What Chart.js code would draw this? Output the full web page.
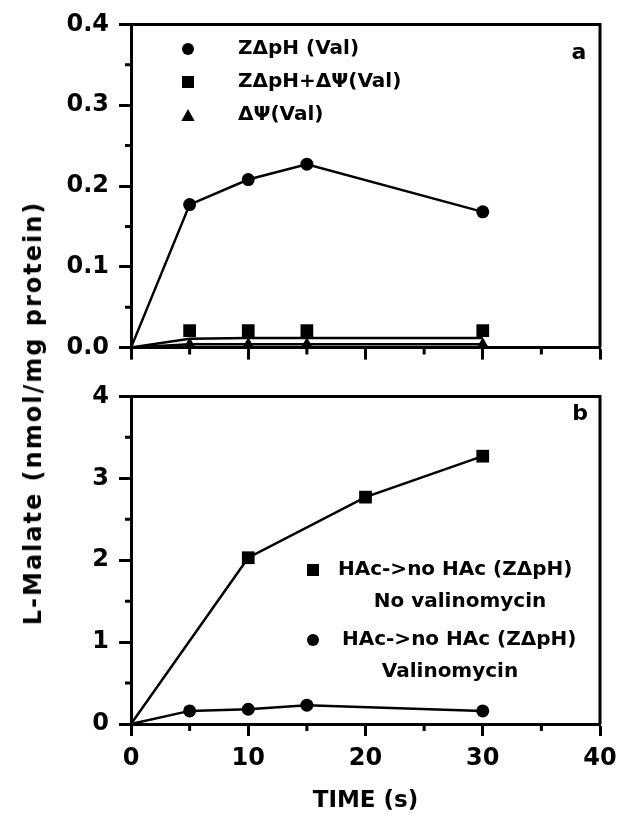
<!DOCTYPE html>
<html>
<head>
<meta charset="utf-8">
<script src="https://cdn.jsdelivr.net/npm/chart.js"></script>
<style>
  body { margin: 0; background: #fff; }
  #wrap { position: relative; width: 619px; height: 820px; overflow: hidden; }
  canvas { position: absolute; left: 0; }
  #ytitle {
    position: absolute; left: 33px; top: 413px;
    transform: translate(-50%, -50%) rotate(-90deg);
    white-space: nowrap;
    font: bold 24px "DejaVu Sans";
    letter-spacing: 2px;
    color: #000;
  }
</style>
</head>
<body>
<div id="wrap">
  <canvas id="panelA" width="619" height="372" style="top:0"></canvas>
  <canvas id="panelB" width="625" height="448" style="top:372px"></canvas>
  <div id="ytitle">L-Malate (nmol/mg protein)</div>
</div>
<script>
// panel a
const timesA = [0, 5, 10, 15, 30];
const markTimesA = [5, 10, 15, 30];
const zdpH = [0, 0.177, 0.208, 0.227, 0.168];
const zdpHdPsi = [0.021, 0.021, 0.021, 0.021];
const zdpHdPsiLine = [0, 0.011, 0.012, 0.012, 0.012];
const dPsi = [0, 0.004, 0.004, 0.004, 0.004];

// panel b
const timesNoVal = [0, 10, 20, 30];
const noValinomycin = [0, 2.03, 2.77, 3.27];
const timesVal = [0, 5, 10, 15, 30];
const valinomycin = [0, 0.16, 0.18, 0.23, 0.16];

// axes
const xTicks = [0, 10, 20, 30, 40];
const xMinor = [5, 15, 25, 35];
const yTicksA = [0, 0.1, 0.2, 0.3, 0.4];
const yMinorA = [0.05, 0.15, 0.25, 0.35];
const yTicksB = [0, 1, 2, 3, 4];
const yMinorB = [0.5, 1.5, 2.5, 3.5];

Chart.defaults.font.family = '"DejaVu Sans"';
Chart.defaults.font.weight = 'bold';
Chart.defaults.color = '#000';

const pts = (xs, ys) => xs.map((x, i) => ({ x: x, y: ys[i] }));

function drawMark(ctx, style, x, y, r) {
  ctx.beginPath();
  if (style === 'circle') {
    ctx.arc(x, y, r, 0, Math.PI * 2);
  } else if (style === 'rect') {
    ctx.rect(x - r, y - r, r * 2, r * 2);
  } else {
    ctx.moveTo(x, y - r);
    ctx.lineTo(x + r * 0.95, y + r * 0.7);
    ctx.lineTo(x - r * 0.95, y + r * 0.7);
    ctx.closePath();
  }
  ctx.fill();
}

// box top/right + minor ticks
const frame = {
  id: 'frame',
  afterDraw(chart, args, opts) {
    const { ctx, chartArea: a, scales } = chart;
    ctx.save();
    ctx.strokeStyle = '#000';
    ctx.lineWidth = 3;
    ctx.beginPath();
    ctx.moveTo(a.left, a.top);
    ctx.lineTo(a.right, a.top);
    ctx.lineTo(a.right, a.bottom);
    opts.xMinor.forEach(v => {
      const px = scales.x.getPixelForValue(v);
      ctx.moveTo(px, a.bottom);
      ctx.lineTo(px, a.bottom + 7);
    });
    opts.yMinor.forEach(v => {
      const py = scales.y.getPixelForValue(v);
      ctx.moveTo(a.left, py);
      ctx.lineTo(a.left - 6, py);
    });
    ctx.stroke();
    ctx.restore();
  }
};

// legend entries and panel letter
const notes = {
  id: 'notes',
  afterDraw(chart, args, opts) {
    const ctx = chart.ctx;
    ctx.save();
    ctx.fillStyle = '#000';
    ctx.textBaseline = 'middle';
    opts.items.forEach(it => {
      if (it.mark) {
        drawMark(ctx, it.mark, it.x, it.y, it.r);
      } else {
        ctx.font = 'bold ' + (it.size || 20) + 'px "DejaVu Sans"';
        ctx.textAlign = it.align || 'left';
        ctx.fillText(it.text, it.x, it.y);
      }
    });
    ctx.restore();
  }
};

const axisGrid = {
  drawOnChartArea: false,
  drawTicks: true,
  tickLength: 12,
  tickWidth: 3,
  tickColor: '#000'
};
const axisBorder = { display: true, color: '#000', width: 3 };
const tickFont = { size: 24, weight: 'bold' };

function series(data, style, radius, showLine) {
  return {
    data: data,
    borderColor: '#000',
    backgroundColor: '#000',
    borderWidth: 2.5,
    showLine: showLine,
    pointStyle: style,
    pointRadius: ctx => (ctx.raw.x === 0 ? 0 : radius),
    pointBorderWidth: 0,
    clip: false
  };
}

new Chart(document.getElementById('panelA'), {
  type: 'line',
  data: {
    datasets: [
      series(pts(timesA, zdpH), 'circle', 6.5, true),
      series(pts(timesA, zdpHdPsiLine), 'rect', 0, true),
      series(pts(markTimesA, zdpHdPsi), 'rect', 9, false),
      series(pts(timesA, dPsi), 'triangle', 7, true)
    ]
  },
  options: {
    responsive: false,
    animation: false,
    layout: { padding: { top: 22, right: 19, left: 0, bottom: 0 } },
    plugins: {
      legend: { display: false },
      tooltip: { enabled: false },
      frame: { xMinor: xMinor, yMinor: yMinorA },
      notes: {
        items: [
          { mark: 'circle', x: 188, y: 49, r: 6 },
          { mark: 'rect', x: 188, y: 82, r: 6 },
          { mark: 'triangle', x: 188, y: 116, r: 7 },
          { text: 'ZΔpH (Val)', x: 238, y: 49 },
          { text: 'ZΔpH+ΔΨ(Val)', x: 238, y: 82 },
          { text: 'ΔΨ(Val)', x: 238, y: 115 },
          { text: 'a', x: 579, y: 53, align: 'center', size: 22 }
        ]
      }
    },
    scales: {
      x: {
        type: 'linear', min: 0, max: 40,
        afterBuildTicks: s => { s.ticks = xTicks.map(v => ({ value: v })); },
        ticks: { callback: () => '', autoSkip: false },
        grid: axisGrid, border: axisBorder,
        afterFit: s => { s.height = 19; }
      },
      y: {
        min: 0, max: 0.4,
        afterBuildTicks: s => { s.ticks = yTicksA.map(v => ({ value: v })); },
        ticks: { callback: v => v.toFixed(1), font: tickFont, padding: 10 },
        grid: axisGrid, border: axisBorder,
        afterFit: s => { s.width = 131; }
      }
    }
  },
  plugins: [frame, notes]
});

new Chart(document.getElementById('panelB'), {
  type: 'line',
  data: {
    datasets: [
      series(pts(timesNoVal, noValinomycin), 'rect', 9, true),
      series(pts(timesVal, valinomycin), 'circle', 6.5, true)
    ]
  },
  options: {
    responsive: false,
    animation: false,
    layout: { padding: { top: 19, right: 25, left: 0, bottom: 0 } },
    plugins: {
      legend: { display: false },
      tooltip: { enabled: false },
      frame: { xMinor: xMinor, yMinor: yMinorB },
      notes: {
        items: [
          { mark: 'rect', x: 313, y: 198, r: 6 },
          { text: 'HAc->no HAc (ZΔpH)', x: 338, y: 198 },
          { text: 'No valinomycin', x: 460, y: 230, align: 'center' },
          { mark: 'circle', x: 313, y: 268, r: 6 },
          { text: 'HAc->no HAc (ZΔpH)', x: 342, y: 268 },
          { text: 'Valinomycin', x: 450, y: 300, align: 'center' },
          { text: 'b', x: 580, y: 42, align: 'center', size: 22 }
        ]
      }
    },
    scales: {
      x: {
        type: 'linear', min: 0, max: 40,
        afterBuildTicks: s => { s.ticks = xTicks.map(v => ({ value: v })); },
        ticks: { font: tickFont, padding: 8, autoSkip: false },
        grid: axisGrid, border: axisBorder,
        title: { display: true, text: 'TIME (s)', font: { size: 23, weight: 'bold' }, padding: { top: 0, bottom: 5 } },
        afterFit: s => { s.height = 96; }
      },
      y: {
        min: 0, max: 4,
        afterBuildTicks: s => { s.ticks = yTicksB.map(v => ({ value: v })); },
        ticks: { font: tickFont, padding: 10 },
        grid: axisGrid, border: axisBorder,
        afterFit: s => { s.width = 131; }
      }
    }
  },
  plugins: [frame, notes]
});
</script>
</body>
</html>
